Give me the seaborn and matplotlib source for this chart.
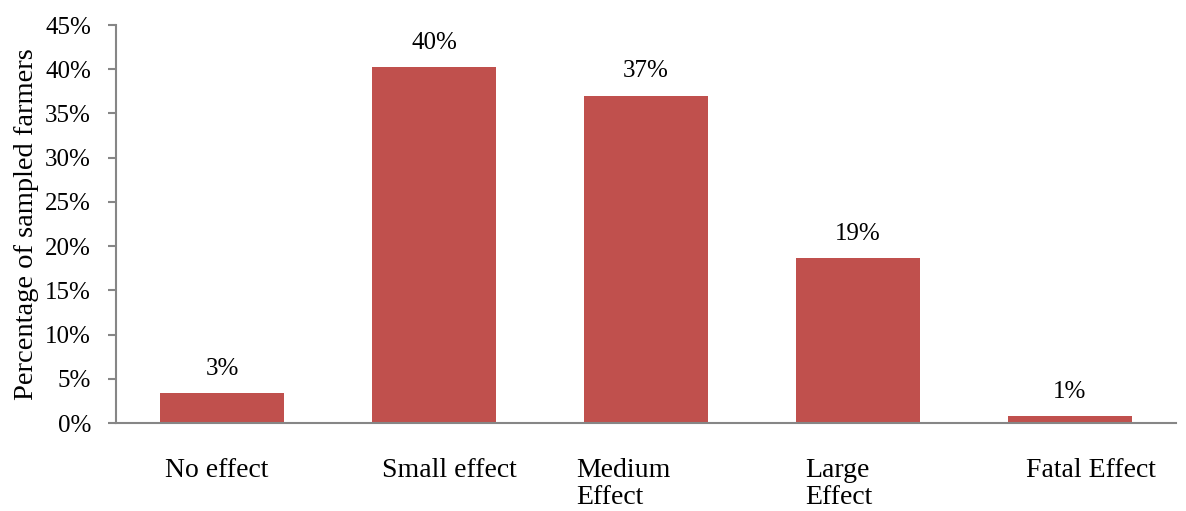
import matplotlib
matplotlib.use("Agg")
import matplotlib.pyplot as plt
import matplotlib.transforms as mtransforms
import seaborn as sns
import pandas as pd
from matplotlib.ticker import FuncFormatter, MultipleLocator

categories = ["No effect", "Small effect", "Medium\nEffect", "Large\nEffect", "Fatal Effect"]
values = [3.4, 40.2, 37.0, 18.6, 0.8]
labels = ["3%", "40%", "37%", "19%", "1%"]

sns.set_theme(style="white")
plt.rcParams['font.family'] = ['Liberation Serif', 'DejaVu Serif']

df = pd.DataFrame({"cat": categories, "val": values})

fig = plt.figure(figsize=(11.86, 5.11), dpi=100)
ax = fig.add_axes([116/1186, 1-423/511, (1176-116)/1186, (423-25)/511])

sns.barplot(data=df, x="cat", y="val", color="#C0504D", width=0.585, ax=ax,
            saturation=1, edgecolor="none")

ax.set_ylim(0, 45)
ax.set_xlim(-0.5, 4.5)
ax.yaxis.set_major_locator(MultipleLocator(5))
ax.yaxis.set_major_formatter(FuncFormatter(lambda v, p: f"{int(round(v))}%"))

for i, (v, t) in enumerate(zip(values, labels)):
    ax.annotate(t, (i, v), xytext=(0, 17.5), textcoords="offset points",
                ha="center", va="center", fontsize=18, color="black")

ax.set_xlabel("")
ax.set_ylabel("Percentage of sampled farmers", fontsize=20.5, color="black")
ax.yaxis.set_label_coords(-0.073, 0.5)

for s in ["top", "right"]:
    ax.spines[s].set_visible(False)
for s in ["left", "bottom"]:
    ax.spines[s].set_color("#868686")
    ax.spines[s].set_linewidth(1.5)

ax.tick_params(axis="y", which="major", left=True, length=6, width=1.5, color="#868686",
               labelsize=18, labelcolor="black", pad=12)
ax.tick_params(axis="x", bottom=False, labelsize=20, labelcolor="black", pad=19)

# small horizontal shifts of category labels (pixels), as in the reference layout
shifts = [-5, 15, -23, -19, 21]
for lab, dx in zip(ax.get_xticklabels(), shifts):
    lab.set_multialignment("left")
    lab.set_verticalalignment("top")
    lab.set_linespacing(1.1)
    lab.set_transform(lab.get_transform() + mtransforms.ScaledTranslation(dx/100, 0, fig.dpi_scale_trans))

fig.savefig("out.png", dpi=100, facecolor="white")
